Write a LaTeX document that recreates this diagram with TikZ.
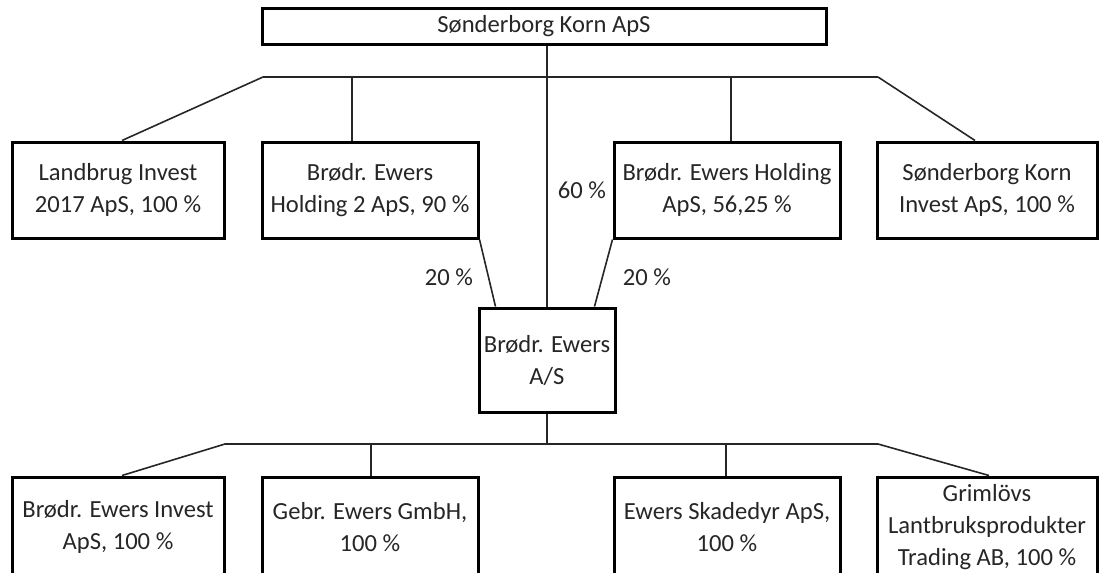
\documentclass[tikz,border=0pt]{standalone}
\usepackage{fontspec}
\setmainfont{Carlito}
\begin{document}
\begin{tikzpicture}[x=0.5pt,y=-0.5pt,
        every node/.style={font=\fontsize{12.3}{16}\selectfont, text=black!85},
        firma/.style={draw=black, line width=1.5pt, minimum width=#1, minimum height=48pt, align=center, inner sep=0pt},
        link/.style={draw=black!85, line width=0.8pt}]
        \useasboundingbox (0,0) rectangle (1099,573);
        \clip (0,0) rectangle (1099,573);
        % top company
        \node [firma=282pt, minimum height=18pt] (korn) at (544,26) {Sønderborg Korn ApS};
        % first row
        \node [firma=106pt] (landbrug) at (118,190) {Landbrug Invest\\2017 ApS, 100 \%};
        \node [firma=108pt] (holding2) at (370,190) {Brødr. Ewers\\Holding 2 ApS, 90 \%};
        \node [firma=113pt] (holding) at (727,190) {Brødr. Ewers Holding\\ApS, 56,25 \%};
        \node [firma=110pt] (kinvest) at (987,190) {Sønderborg Korn\\Invest ApS, 100 \%};
        % middle company
        \node [firma=68pt, minimum height=52pt] (ewers) at (547,360) {Brødr. Ewers\\A/S};
        % second row
        \node [firma=106pt, minimum height=50pt] (einvest) at (118,527) {Brødr. Ewers Invest\\ApS, 100 \%};
        \node [firma=108pt, minimum height=50pt] (gmbh) at (370,527) {Gebr. Ewers GmbH,\\100 \%};
        \node [firma=113pt, minimum height=50pt] (skadedyr) at (727,527) {Ewers Skadedyr ApS,\\100 \%};
        \node [firma=110pt, minimum height=50pt] (grimlovs) at (987,527) {Grimlövs\\Lantbruksprodukter\\Trading AB, 100 \%};
        % upper bus
        \coordinate (busA w) at (263,77);
        \coordinate (busA e) at (878,77);
        \draw[link] (busA w) -- (busA e);
        \draw[link] (busA w) -- ([xshift=2pt]landbrug.north);
        \draw[link] ([xshift=-9pt]holding2.north |- busA w) -- ([xshift=-9pt]holding2.north);
        \draw[link] ([xshift=2pt]holding.north |- busA w) -- ([xshift=2pt]holding.north);
        \draw[link] (busA e) -- ([xshift=-6pt]kinvest.north);
        \draw[link] (ewers.north |- korn.south) -- (ewers.north);
        \draw[link] (holding2.south east) -- ([xshift=9pt]ewers.north west);
        \draw[link] (holding.south west) -- ([xshift=-11pt]ewers.north east);
        \node (p60) at (582,190) {60 \%};
        \node (p20a) at (449,277) {20 \%};
        \node (p20b) at (647,277) {20 \%};
        % lower bus
        \coordinate (busB w) at (225,444);
        \coordinate (busB e) at (878,444);
        \draw[link] (ewers.south) -- (ewers.south |- busB w);
        \draw[link] (busB w) -- (busB e);
        \draw[link] (busB w) -- ([xshift=2pt]einvest.north);
        \draw[link] ([xshift=0.5pt]gmbh.north |- busB w) -- ([xshift=0.5pt]gmbh.north);
        \draw[link] ([xshift=-0.5pt]skadedyr.north |- busB w) -- ([xshift=-0.5pt]skadedyr.north);
        \draw[link] (busB e) -- ([xshift=1pt]grimlovs.north);
    \end{tikzpicture}
\end{document}
